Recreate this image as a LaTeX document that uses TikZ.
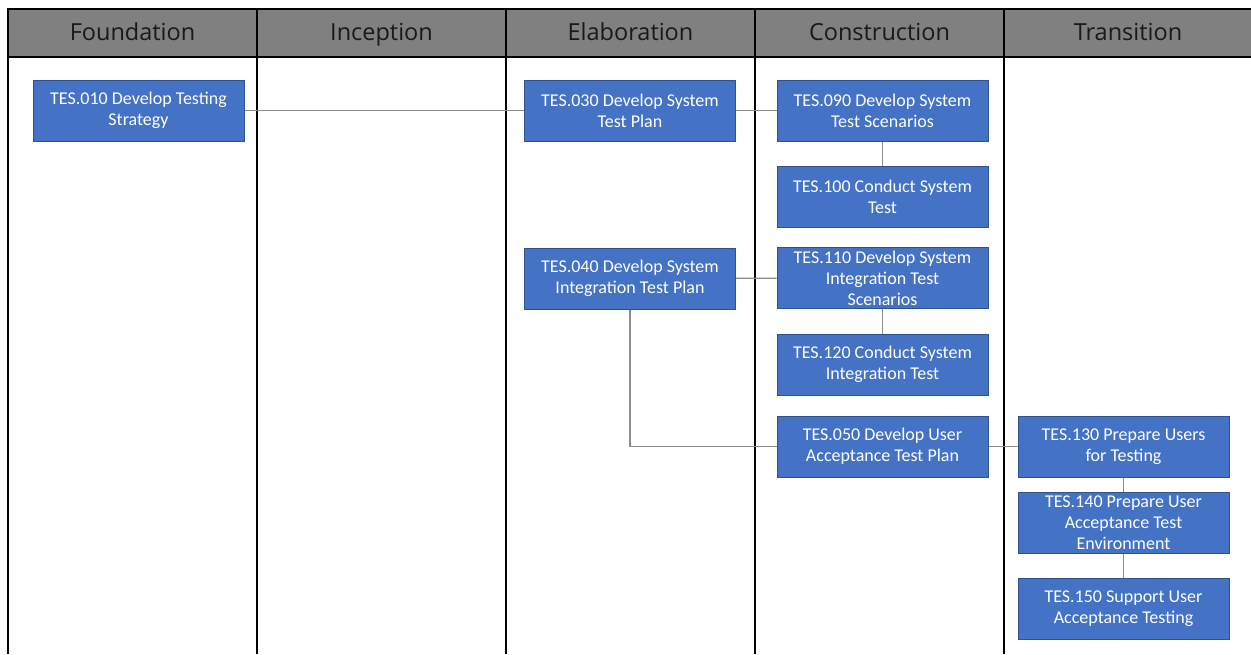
\documentclass[tikz,border=0pt]{standalone}
\usepackage{fontspec}
\setmainfont{Carlito}
\newfontfamily\headfont{Open Sans}
\definecolor{taskblue}{HTML}{4472C4}
\definecolor{taskedge}{HTML}{2F528F}
\definecolor{headgray}{HTML}{808080}
\definecolor{linkgray}{HTML}{8C8C8C}
\tikzset{
  task/.style={draw=taskedge, line width=1pt, fill=taskblue, text=white,
    minimum width=211pt, minimum height=61pt, inner sep=0pt, align=center,
    font=\fontsize{18}{21}\selectfont},
  phase/.style={anchor=base, font=\headfont\fontsize{23.5}{26}\selectfont, text=black!90}
}
\begin{document}
\begin{tikzpicture}[x=1pt,y=-1pt]
  \useasboundingbox (0,0) rectangle (1251,654);
  % lanes
  \fill[headgray] (8,9) rectangle (1251,57);
  \draw[line width=1.6pt]
    (8,654) -- (8,9) -- (1251,9)
    (8,57) -- (1251,57);
  \foreach \x in {257,506,755,1004}
    \draw[line width=1.6pt] (\x,9) -- (\x,654);
  \draw
    (132.5,40) node[phase] (foundation){Foundation}
    (381.5,40) node[phase] (inception){Inception}
    (630.5,40) node[phase] (elaboration){Elaboration}
    (879.5,40) node[phase] (construction){Construction}
    (1128,40) node[phase] (transition){Transition};
  % tasks
  \draw
    (138.5,110.5) node[task] (t010){TES.010 Develop Testing\\Strategy}
    (630,110.5) node[task] (t030){TES.030 Develop System\\Test Plan}
    (630,278.5) node[task] (t040){TES.040 Develop System\\Integration Test Plan}
    (882.5,110.5) node[task] (t090){TES.090 Develop System\\Test Scenarios}
    (882.5,196.5) node[task] (t100){TES.100 Conduct System\\Test}
    (882.5,278) node[task] (t110){TES.110 Develop System\\Integration Test\\Scenarios}
    (882.5,364.5) node[task] (t120){TES.120 Conduct System\\Integration Test}
    (882.5,446.5) node[task] (t050){TES.050 Develop User\\Acceptance Test Plan}
    (1123.5,446.5) node[task] (t130){TES.130 Prepare Users\\for Testing}
    (1123.5,523) node[task] (t140){TES.140 Prepare User\\Acceptance Test\\Environment}
    (1123.5,608.5) node[task] (t150){TES.150 Support User\\Acceptance Testing};
  \begin{scope}[-, draw=linkgray, line width=1.4pt]
    \draw (t010) to (t030);
    \draw (t030) to (t090);
    \draw (t090) to (t100);
    \draw (t040) to (t110);
    \draw (t110) to (t120);
    \draw (t040) |- (t050);
    \draw (t050) to (t130);
    \draw (t130) to (t140);
    \draw (t140) to (t150);
  \end{scope}
\end{tikzpicture}
\end{document}
